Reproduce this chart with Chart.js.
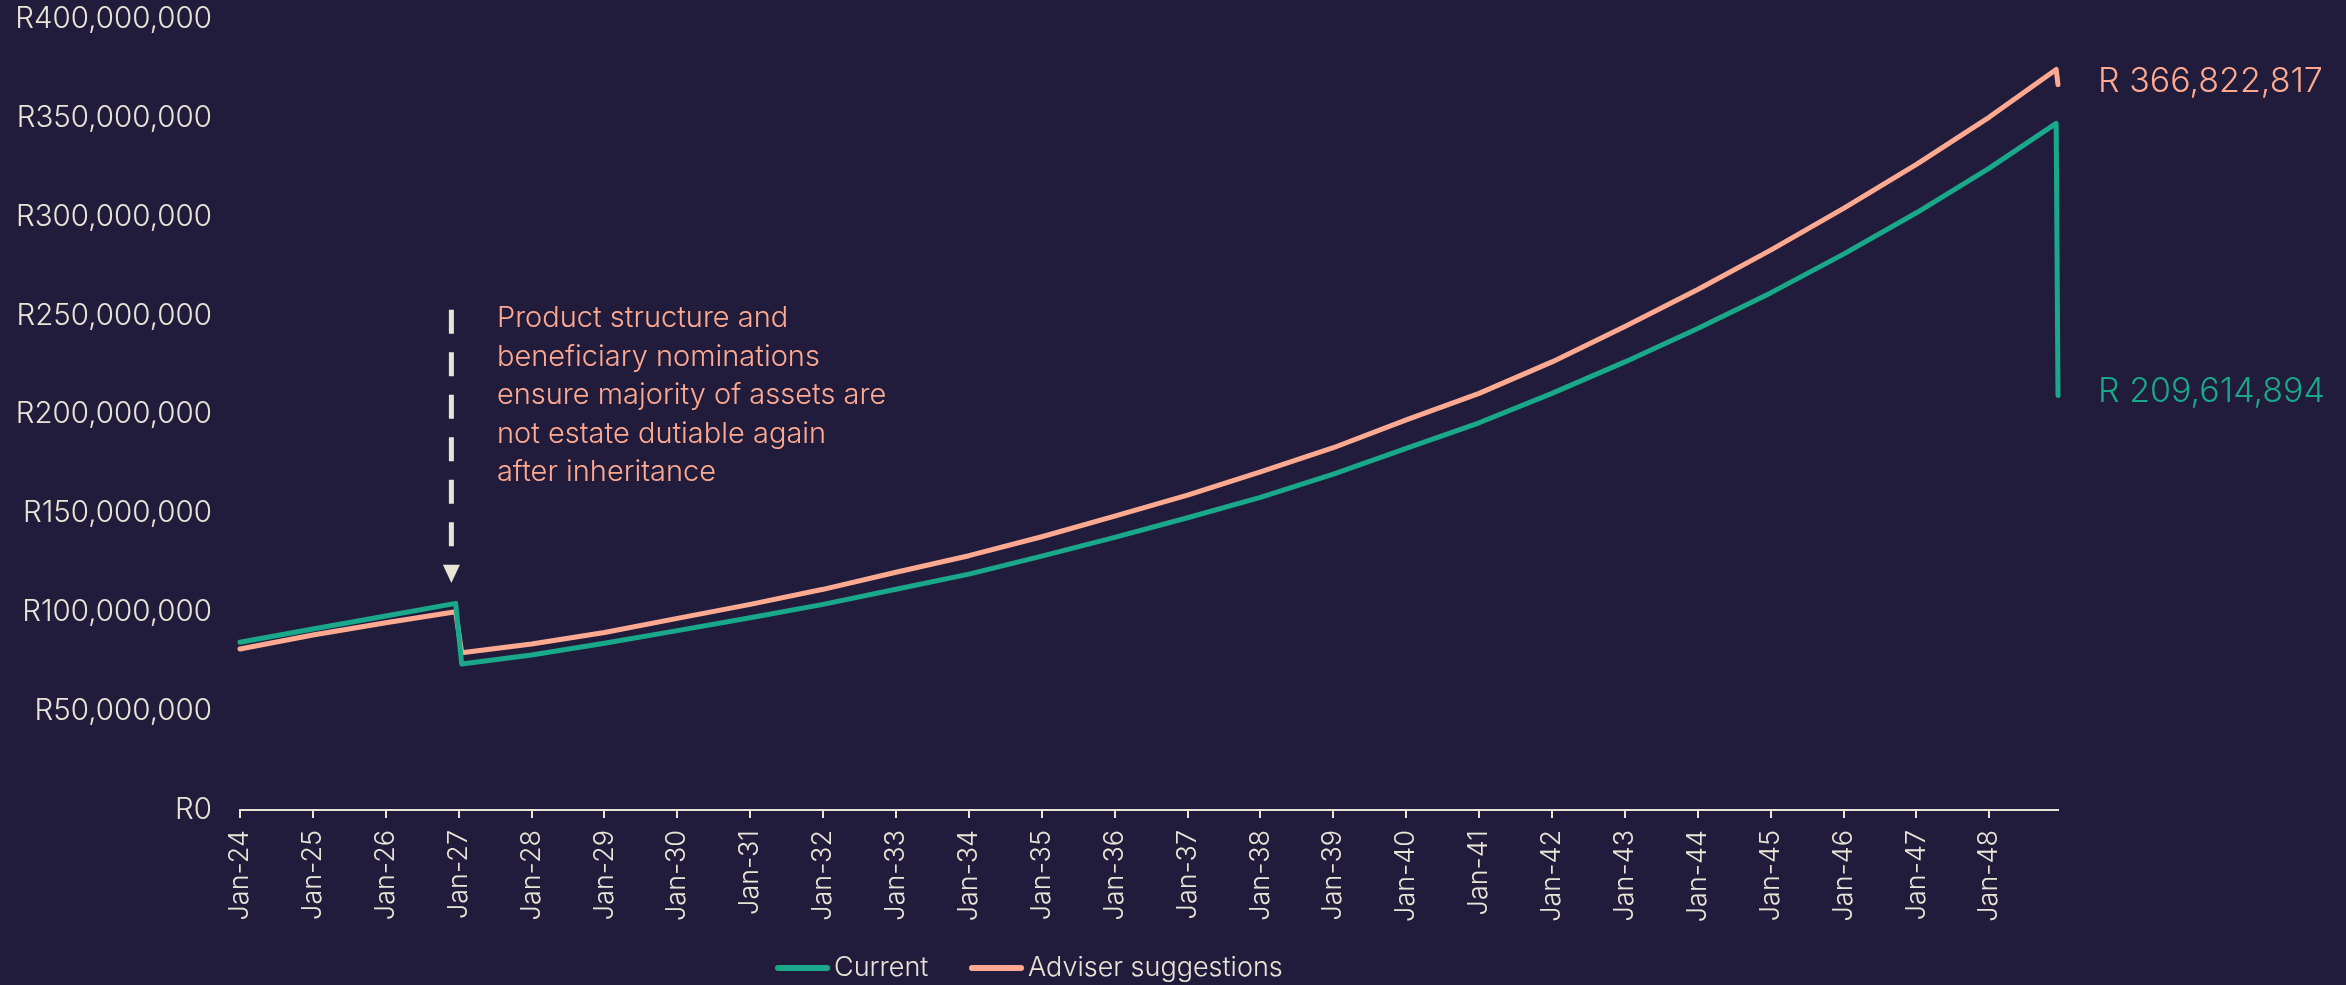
<!DOCTYPE html>
<html><head><meta charset="utf-8">
<script src="https://cdn.jsdelivr.net/npm/chart.js@4.4.1/dist/chart.umd.min.js"></script>
<style>html,body{margin:0;padding:0;background:#221C3C;overflow:hidden}#wrap{width:2346px;height:985px}</style>
</head><body><div id="wrap"><canvas id="c" width="2346" height="985"></canvas></div>
<script>
// Month offsets from Jan-24 (0 = Jan-24)
const monthIndex = [0, 12, 24, 35.5, 36.5, 48, 60, 72, 84, 96, 108, 120, 132, 144, 156, 168, 180, 192, 204, 216, 228, 240, 252, 264, 276, 288, 299, 299.3];
const currentValues = [84.8e6, 91.5e6, 98.1e6, 104.5e6, 73.8e6, 78.4e6, 84.3e6, 90.7e6, 97.2e6, 104.0e6, 111.6e6, 119.3e6, 128.4e6, 137.9e6, 147.8e6, 158.1e6, 169.9e6, 182.9e6, 195.8e6, 210.7e6, 226.6e6, 243.5e6, 261.5e6, 281.1e6, 302.0e6, 324.6e6, 347.2e6, 209614894];
const adviserValues = [81.4e6, 88.5e6, 94.7e6, 100.3e6, 79.5e6, 83.9e6, 89.8e6, 96.9e6, 104.0e6, 111.6e6, 120.2e6, 128.6e6, 138.2e6, 148.6e6, 159.2e6, 171.0e6, 183.2e6, 197.3e6, 210.7e6, 226.6e6, 244.5e6, 263.2e6, 283.1e6, 304.2e6, 326.5e6, 350.4e6, 374.5e6, 366822817];
const seriesNames = ['Current', 'Adviser suggestions'];
const endLabels = ['R 209,614,894', 'R 366,822,817'];
const xTickValues = [0, 12, 24, 36, 48, 60, 72, 84, 96, 108, 120, 132, 144, 156, 168, 180, 192, 204, 216, 228, 240, 252, 264, 276, 288];
const xTickLabels = ['Jan-24','Jan-25','Jan-26','Jan-27','Jan-28','Jan-29','Jan-30','Jan-31','Jan-32','Jan-33','Jan-34','Jan-35','Jan-36','Jan-37','Jan-38','Jan-39','Jan-40','Jan-41','Jan-42','Jan-43','Jan-44','Jan-45','Jan-46','Jan-47','Jan-48'];
const yTickValues = [0, 50e6, 100e6, 150e6, 200e6, 250e6, 300e6, 350e6, 400e6];
const yTickLabels = ['R0','R50,000,000','R100,000,000','R150,000,000','R200,000,000','R250,000,000','R300,000,000','R350,000,000','R400,000,000'];
const annotationLines = ['Product structure and', 'beneficiary nominations', 'ensure majority of assets are', 'not estate dutiable again', 'after inheritance'];
// annotation anchor (data space)
const arrowAt = {x: 34.8, top: 253e6, dashEnd: 133e6, headTop: 124e6, tip: 114.8e6};
const noteAt = {x: 42.3, y: 244e6};

const BG = '#221C3C', CREAM = '#E9E5D6', TEAL = '#19A88A', SALMON = '#FFAA90';
const FONT = 'Inter';

const overlay = {
  id: 'overlay',
  beforeDraw(chart) {
    const c = chart.ctx; c.save(); c.fillStyle = BG; c.fillRect(0, 0, chart.width, chart.height); c.restore();
  },
  afterDraw(chart) {
    const c = chart.ctx, xs = chart.scales.x, ys = chart.scales.y;
    c.save();
    const ax = xs.getPixelForValue(arrowAt.x);
    c.strokeStyle = CREAM; c.lineWidth = 5; c.setLineDash([24, 18.5]); c.lineCap = 'butt';
    c.beginPath(); c.moveTo(ax, ys.getPixelForValue(arrowAt.top)); c.lineTo(ax, ys.getPixelForValue(arrowAt.dashEnd)); c.stroke();
    c.setLineDash([]);
    c.fillStyle = CREAM;
    const ht = ys.getPixelForValue(arrowAt.headTop), tp = ys.getPixelForValue(arrowAt.tip);
    c.beginPath(); c.moveTo(ax - 8.5, ht); c.lineTo(ax + 8.5, ht); c.lineTo(ax, tp); c.closePath(); c.fill();
    c.fillStyle = SALMON; c.font = '300 29px ' + FONT; c.textAlign = 'left'; c.textBaseline = 'alphabetic';
    const nx = xs.getPixelForValue(noteAt.x), ny = ys.getPixelForValue(noteAt.y);
    annotationLines.forEach((t, i) => c.fillText(t, nx, ny + i * 38.5));
    c.font = '300 34px ' + FONT;
    const last = monthIndex.length - 1;
    const lx = xs.getPixelForValue(monthIndex[last]) + 40;
    c.fillStyle = TEAL; c.fillText(endLabels[0], lx, ys.getPixelForValue(currentValues[last]) + 7);
    c.fillStyle = SALMON; c.fillText(endLabels[1], lx, ys.getPixelForValue(adviserValues[last]) + 7);
    const ly = 968;
    const items = [[TEAL, seriesNames[0], 775], [SALMON, seriesNames[1], 969]];
    c.font = '300 27px ' + FONT; c.textBaseline = 'middle';
    items.forEach(([col, name, x0]) => {
      c.strokeStyle = col; c.lineWidth = 6; c.lineCap = 'round';
      c.beginPath(); c.moveTo(x0 + 3, ly); c.lineTo(x0 + 52, ly); c.stroke();
      c.fillStyle = CREAM; c.fillText(name, x0 + 59, ly);
    });
    c.restore();
  }
};

const mk = vals => monthIndex.map((m, i) => ({x: m, y: vals[i]}));
new Chart(document.getElementById('c'), {
  type: 'line',
  data: {
    datasets: [
      {label: seriesNames[0], data: mk(currentValues), borderColor: TEAL, backgroundColor: TEAL, borderWidth: 5, pointRadius: 0, tension: 0, borderCapStyle: 'round', borderJoinStyle: 'round', clip: false},
      {label: seriesNames[1], data: mk(adviserValues), borderColor: SALMON, backgroundColor: SALMON, borderWidth: 5, pointRadius: 0, tension: 0, borderCapStyle: 'round', borderJoinStyle: 'round', clip: false}
    ]
  },
  options: {
    responsive: false, devicePixelRatio: 1, animation: false,
    layout: {padding: {top: 0, right: 288, left: 0, bottom: 0}},
    plugins: {legend: {display: false}, tooltip: {enabled: false}},
    scales: {
      x: {
        type: 'linear', min: 0, max: 299.3,
        afterBuildTicks: s => { s.ticks = xTickValues.map(v => ({value: v})); },
        afterFit: s => { s.height = 175; },
        ticks: {callback: v => xTickLabels[xTickValues.indexOf(v)], minRotation: 90, maxRotation: 90, padding: 12, color: CREAM, font: {family: FONT, size: 27, weight: '300'}, autoSkip: false},
        grid: {drawOnChartArea: false, drawTicks: true, tickLength: 8, color: CREAM, tickWidth: 2, lineWidth: 2},
        border: {display: true, color: CREAM, width: 2}
      },
      y: {
        type: 'linear', min: 0, max: 400e6,
        afterBuildTicks: s => { s.ticks = yTickValues.map(v => ({value: v})); },
        afterFit: s => { s.width = 240; s.paddingTop = 19; s.paddingBottom = 0; },
        ticks: {callback: v => yTickLabels[yTickValues.indexOf(v)], padding: 28, color: CREAM, font: {family: FONT, size: 29.5, weight: '300'}},
        grid: {display: false, drawTicks: false},
        border: {display: false}
      }
    }
  },
  plugins: [overlay]
});
</script></body></html>
